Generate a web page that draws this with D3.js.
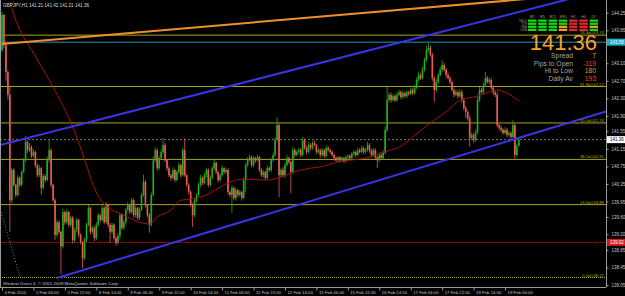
<!DOCTYPE html>
<html>
<head>
<meta charset="utf-8">
<script src="https://d3js.org/d3.v7.min.js"></script>
<style>
body { margin: 0; background: #000; }
svg { display: block; }
</style>
</head>
<body>
<svg></svg>
<script>
var w = 625
var h = 296
var plotRight = 606
var plotBottom = 287

// ---- data ----
var symbol = "GBPJPY,H1"
var firstOpen = 143.40
var closes = [
 144.20,143.51,142.90,142.38,139.98,140.67,140.33,140.10,140.49,140.33,
 140.62,140.89,141.31,141.12,141.19,140.99,141.08,140.78,140.55,140.71,
 140.26,140.53,140.44,140.89,141.12,140.33,139.98,139.19,139.48,139.26,
 138.93,139.71,139.48,139.71,139.42,139.58,139.07,139.30,139.53,139.19,
 139.03,138.66,139.07,139.42,139.80,139.26,139.35,139.12,139.42,139.64,
 139.53,139.80,139.48,139.87,139.42,139.26,139.42,139.12,139.01,139.17,
 139.64,139.35,139.48,139.76,139.87,139.71,139.98,139.64,139.80,139.58,
 139.76,140.10,140.40,139.87,139.64,139.42,140.10,140.89,141.12,140.71,
 140.94,141.08,141.24,140.89,140.71,140.55,140.49,140.67,140.44,140.62,
 140.78,140.55,141.12,140.55,140.33,140.17,139.87,139.64,139.98,140.10,
 140.33,140.49,140.37,140.55,140.67,140.33,140.49,140.71,140.83,140.62,
 140.44,140.55,140.71,140.62,140.67,140.17,140.10,140.26,140.03,140.21,
 140.10,140.17,140.03,140.44,140.78,140.89,140.96,140.78,140.94,140.89,
 140.96,140.67,140.55,140.62,140.49,140.71,140.67,140.89,141.01,141.35,
 141.69,140.55,140.67,140.55,140.78,140.94,140.85,140.62,141.12,141.01,
 141.08,141.12,141.01,141.35,141.17,141.08,141.24,141.17,141.28,141.24,
 141.08,141.12,141.01,141.12,140.99,141.17,141.12,141.08,141.01,140.94,
 140.89,140.96,140.89,140.94,140.87,140.96,140.99,140.94,141.03,141.08,
 141.01,141.12,141.08,141.17,141.08,141.12,141.24,141.12,141.01,141.12,
 140.96,140.89,141.01,140.94,141.06,141.58,142.26,142.38,142.26,142.35,
 142.26,142.38,142.44,142.33,142.42,142.35,142.44,142.40,142.49,142.42,
 142.54,142.72,142.83,142.76,142.95,143.17,143.40,143.45,143.29,142.76,
 142.49,142.67,142.83,142.95,143.06,142.95,142.83,142.76,142.67,142.49,
 142.38,142.44,142.35,142.44,142.26,142.08,141.99,141.85,141.40,141.47,
 141.35,141.53,142.26,142.49,142.44,142.60,142.76,142.67,142.72,142.54,
 142.44,142.38,141.69,141.63,141.58,141.51,141.58,141.47,141.51,141.42,
 141.69,141.01,141.21,141.36
]
// wick lengths beyond the body, in pips
var wickUp = [
 7,2,2,4,18,5,4,3,6,3, 4,5,14,3,9,4,6,3,4,7, 3,5,4,8,23,4,3,5,6,4,
 3,8,4,6,3,5,4,6,5,3, 4,2,6,5,7,3,5,4,6,5, 3,6,4,7,3,4,5,3,4,6,
 5,4,6,5,7,3,6,4,5,3, 6,5,16,4,3,5,6,8,7,4, 5,6,16,4,3,5,4,6,3,5,
 7,4,6,27,3,4,3,5,6,4, 5,7,3,6,5,4,6,5,8,3, 4,5,6,3,5,4,3,6,4,5,
 3,4,3,6,5,7,6,4,5,3, 6,3,4,5,3,6,4,5,6,7, 18,5,4,6,5,7,4,3,8,5,
 4,6,5,7,4,5,6,4,5,6, 3,5,4,5,3,6,4,3,4,3, 4,3,2,4,3,4,3,4,5,4,
 3,5,4,6,4,5,7,4,3,5, 4,3,5,4,6,8,30,6,5,4, 5,6,5,4,6,4,5,4,6,5,
 7,6,8,5,7,6,9,11,6,5, 4,6,5,7,11,5,4,6,5,4, 5,6,4,7,5,4,5,4,6,5,
 4,6,9,7,5,6,14,5,6,4, 5,3,6,4,5,4,6,5,4,5, 11,4,5,6
]
var wickDn = [
 5,7,20,11,73,7,4,6,3,5, 4,3,5,6,4,5,3,6,5,4, 16,4,6,3,5,6,4,11,5,6,
 64,5,6,4,5,6,8,4,5,6, 5,23,4,5,3,6,4,7,5,4, 6,3,5,4,6,25,5,6,7,4,
 8,5,4,6,3,5,4,6,5,4, 5,3,4,6,5,18,4,3,5,6, 4,3,5,4,6,5,7,4,5,3,
 4,6,3,4,5,6,4,27,5,4, 3,5,4,3,6,5,4,3,4,5, 6,4,3,5,4,6,5,41,4,6,
 5,4,6,3,27,4,3,5,4,6, 3,5,4,6,5,3,4,5,3,4, 3,50,5,4,6,3,5,48,4,5,
 3,4,5,3,4,6,3,5,4,3, 5,4,6,3,5,4,3,5,4,6, 3,4,5,3,4,3,5,4,3,4,
 5,3,4,3,5,4,3,6,4,3, 5,18,4,5,3,4,5,4,6,3, 5,4,3,5,4,3,5,4,3,5,
 4,3,5,4,3,4,3,5,4,6, 27,5,4,3,5,4,6,3,5,4, 6,3,5,4,6,5,14,6,20,5,
 6,4,5,4,3,5,4,3,5,4, 6,5,4,6,5,4,3,5,4,6, 3,11,4,0
]
// moving average, read at knots (bar index, price)
var maBars = [4,7,16,26,36,43,46,51,62,75,79,86,91,97,106,111,116,123,135,142,147,157,162,171,177,187,192,198,203,209,218,227,233,240,248,252,257,263]
var maPrices = [144.49,144.08,143.33,142.56,141.65,140.78,140.37,139.94,139.64,139.44,139.60,139.76,139.98,140.01,140.14,140.28,140.39,140.46,140.44,140.51,140.60,140.71,140.74,140.85,140.89,140.96,141.05,141.12,141.21,141.42,141.74,142.03,142.26,142.33,142.44,142.49,142.42,142.24]

var timeTickBars = [0,16,32,48,64,80,96,112,128,144,160,176,192,208,224,240,256]
var timeTickLabels = ["4 Feb 2010","5 Feb 06:00","5 Feb 22:00","8 Feb 14:00","9 Feb 06:00","9 Feb 22:00","10 Feb 14:00","11 Feb 06:00","11 Feb 22:00","12 Feb 14:00","15 Feb 06:00","15 Feb 22:00","16 Feb 14:00","17 Feb 06:00","17 Feb 22:00","18 Feb 14:00","19 Feb 06:00"]
var priceTicks = [144.25,143.85,143.10,142.70,142.30,141.90,141.55,141.15,140.75,140.35,139.95,139.60,139.20,138.85,138.45,138.05]

var fibNames = ["76.4","61.8","50.0","38.2","23.6","0.0"]
var fibPrices = [143.74,142.57,141.74,140.91,139.88,138.22]

var upperChannel = [[14,141.41],[217,143.74]]
var lowerChannel = [[28,138.21],[263,141.40]]
var orangeLine = [[0,143.54],[253,144.51]]
var cyanTrend = [[-0.5,139.71],[9.2,138.23]]
var cyanLevel = 143.58
var redLevel = 139.02

var signalCols = ["M1","M5","M15","M30","H1","H4","D1"]
var signalRows = ["MACD","STR","EMA","OsMA"]
var signals = [
 ["up","up","up","up","dn","dn","up"],
 ["up","up","up","up","dn","dn","up"],
 ["up","up","up","flat","dn","dn","flat"],
 ["up","up","up","flat","dn","dn","up"]
]
var infoLabels = ["Spread","Pips to Open","Hi to Low","Daily Av"]
var infoValues = ["7","-119","180","193"]

// ---- drawing ----
var font = "'Liberation Sans', Arial, sans-serif"
var bullColor = "#1fb01f"
var bearColor = "#ee5a55"
var axisText = "#c4c4c4"
var fibColor = "#a6a61e"

var svg = d3.select("svg")
	.attr("width", w)
	.attr("height", h)
	.style("background-color", "black")

var x = d3.scaleLinear().domain([0, 263]).range([2, 518.8])
var y = d3.scaleLinear().domain([138.004, 144.54]).range([plotBottom, 0])

svg.append("defs").append("clipPath")
	.attr("id", "plotClip")
	.append("rect")
	.attr("x", 0).attr("y", 0)
	.attr("width", plotRight).attr("height", plotBottom)

var plot = svg.append("g").attr("clip-path", "url(#plotClip)")

// candles
var candles = closes.map(function(c, i){
	var o = i == 0 ? firstOpen : closes[i-1]
	return {i: i, o: o, c: c,
		hi: Math.max(o, c) + wickUp[i] / 100,
		lo: Math.min(o, c) - wickDn[i] / 100}
})

// horizontal levels (behind the bars)
var fibs = fibPrices.map(function(p, k){ return {p: p, name: fibNames[k]} })

plot.selectAll(".fib")
	.data(fibs)
	.join("line")
	.attr("class", "fib")
	.attr("x1", 0).attr("x2", plotRight)
	.attr("y1", function(d){ return y(d.p) })
	.attr("y2", function(d){ return y(d.p) })
	.attr("stroke", fibColor)
	.attr("stroke-width", 1)
	.attr("stroke-dasharray", function(d){ return d.name == "0.0" ? "1,1" : null })

plot.append("line")
	.attr("x1", 0).attr("x2", plotRight)
	.attr("y1", y(cyanLevel)).attr("y2", y(cyanLevel))
	.attr("stroke", "#2396b4").attr("stroke-width", 1)

plot.append("line")
	.attr("x1", 0).attr("x2", plotRight)
	.attr("y1", y(closes[closes.length-1])).attr("y2", y(closes[closes.length-1]))
	.attr("stroke", "#7a7a7a").attr("stroke-width", 1)
	.attr("stroke-dasharray", "2,2")

plot.append("line")
	.attr("x1", 0).attr("x2", plotRight)
	.attr("y1", y(redLevel)).attr("y2", y(redLevel))
	.attr("stroke", "#b01818").attr("stroke-width", 1)
	.attr("stroke-dasharray", "1,1")

plot.selectAll(".wick")
	.data(candles)
	.join("line")
	.attr("class", "wick")
	.attr("x1", function(d){ return x(d.i) })
	.attr("x2", function(d){ return x(d.i) })
	.attr("y1", function(d){ return y(d.hi) })
	.attr("y2", function(d){ return y(d.lo) })
	.attr("stroke", function(d){ return d.c >= d.o ? bullColor : bearColor })
	.attr("stroke-width", 0.8)

plot.selectAll(".body")
	.data(candles)
	.join("rect")
	.attr("class", "body")
	.attr("x", function(d){ return x(d.i) - 0.8 })
	.attr("width", 1.6)
	.attr("y", function(d){ return y(Math.max(d.o, d.c)) })
	.attr("height", function(d){ return Math.max(1, Math.abs(y(d.o) - y(d.c))) })
	.attr("fill", function(d){ return d.c >= d.o ? bullColor : bearColor })

// moving average
var maPts = maBars.map(function(b, k){ return [b, maPrices[k]] })
plot.append("path")
	.datum(maPts)
	.attr("d", d3.line()
		.x(function(d){ return x(d[0]) })
		.y(function(d){ return y(d[1]) })
		.curve(d3.curveMonotoneX))
	.attr("fill", "none")
	.attr("stroke", "#a81010")
	.attr("stroke-width", 1)

// trend lines, extended to the right edge
function extend(pts, fromLeft){
	var b0 = pts[0][0], p0 = pts[0][1]
	var slope = (pts[1][1] - p0) / (pts[1][0] - b0)
	var bStart = fromLeft ? x.invert(0) : b0
	var bEnd = x.invert(plotRight)
	return [[bStart, p0 + slope * (bStart - b0)], [bEnd, p0 + slope * (bEnd - b0)]]
}
var seg = d3.line().x(function(d){ return x(d[0]) }).y(function(d){ return y(d[1]) })

plot.append("path").attr("d", seg(extend(upperChannel, true)))
	.attr("stroke", "#3b33e6").attr("stroke-width", 2).attr("fill", "none")
plot.append("path").attr("d", seg(extend(lowerChannel, false)))
	.attr("stroke", "#3b33e6").attr("stroke-width", 2).attr("fill", "none")
plot.append("path").attr("d", seg(extend(orangeLine, false)))
	.attr("stroke", "#ef8e2c").attr("stroke-width", 2).attr("fill", "none")
plot.append("path").attr("d", seg(cyanTrend))
	.attr("stroke", "#2a9fb5").attr("stroke-width", 1).attr("fill", "none")
	.attr("stroke-dasharray", "1,2")

// fib labels
plot.selectAll(".fibLabel")
	.data(fibs)
	.join("text")
	.attr("class", "fibLabel")
	.attr("x", plotRight - 2)
	.attr("y", function(d){ return y(d.p) - 1 })
	.attr("text-anchor", "end")
	.style("font", "4.3px " + font)
	.attr("fill", fibColor)
	.text(function(d){ return d.name + "=" + d.p.toFixed(2) })

// ---- axes ----
svg.append("line")
	.attr("x1", plotRight + 0.5).attr("x2", plotRight + 0.5)
	.attr("y1", 0).attr("y2", plotBottom)
	.attr("stroke", "#9a9a9a")
svg.append("line")
	.attr("x1", 0).attr("x2", plotRight)
	.attr("y1", plotBottom + 0.5).attr("y2", plotBottom + 0.5)
	.attr("stroke", "#9a9a9a")
svg.append("line")
	.attr("x1", 0.5).attr("x2", 0.5)
	.attr("y1", 0).attr("y2", plotBottom)
	.attr("stroke", "#9a9a9a")

var yAxis = svg.append("g")
	.attr("transform", "translate(" + (plotRight + 0.5) + ",0)")
	.call(d3.axisRight(y).tickValues(priceTicks).tickSize(2).tickPadding(3)
		.tickFormat(function(d){ return d.toFixed(2) }))
yAxis.select(".domain").remove()
yAxis.selectAll("line").attr("stroke", "#9a9a9a")
yAxis.selectAll("text").attr("fill", axisText).style("font", "4.5px " + font)

var xAxis = svg.append("g")
	.attr("transform", "translate(0," + (plotBottom + 0.5) + ")")
	.call(d3.axisBottom(x).tickValues(timeTickBars).tickSize(3)
		.tickFormat(function(d, k){ return timeTickLabels[k] }))
xAxis.select(".domain").remove()
xAxis.selectAll("line").attr("stroke", "#9a9a9a")
xAxis.selectAll("text")
	.attr("fill", axisText)
	.attr("text-anchor", "start")
	.attr("x", 2).attr("y", 3).attr("dy", "0.71em")
	.style("font", "4.3px " + font)

// price boxes on the axis
var boxes = [
	{p: cyanLevel, fill: "#2aa9c6", color: "#e8ffff"},
	{p: closes[closes.length-1], fill: "#ffffff", color: "#000000"},
	{p: redLevel, fill: "#d41e1e", color: "#ffffff"}
]
var boxG = svg.selectAll(".pbox").data(boxes).join("g").attr("class", "pbox")
boxG.append("rect")
	.attr("x", plotRight + 1).attr("width", w - plotRight - 1)
	.attr("y", function(d){ return y(d.p) - 3.5 }).attr("height", 7)
	.attr("fill", function(d){ return d.fill })
boxG.append("text")
	.attr("x", plotRight + 4)
	.attr("y", function(d){ return y(d.p) + 1.6 })
	.attr("fill", function(d){ return d.color })
	.style("font", "4.5px " + font)
	.text(function(d){ return d.p.toFixed(2) })

// title + footer
var last = candles[candles.length-1]
svg.append("text")
	.attr("x", 3).attr("y", 7)
	.attr("fill", "#d8d8d8")
	.style("font", "4.6px " + font)
	.text(symbol + "  " + [last.o, last.hi, last.lo, last.c].map(function(v){ return v.toFixed(2) }).join(" "))

svg.append("text")
	.attr("x", 3).attr("y", 285)
	.attr("fill", "#c8c8c8")
	.style("font", "4.4px " + font)
	.text("Windsor Direct 4, \u00a9 2001-2009 MetaQuotes Software Corp.")

// ---- signal panel ----
var colX = d3.scaleBand().domain(signalCols).range([528, 598]).paddingInner(0.18)
var rowY = d3.scaleBand().domain(signalRows).range([19.5, 31]).paddingInner(0.25)
var sigColor = {up: "#12d812", dn: "#e02828", flat: "#f0a020"}

svg.selectAll(".colHead")
	.data(signalCols)
	.join("text")
	.attr("class", "colHead")
	.attr("x", function(d){ return colX(d) + colX.bandwidth() / 2 })
	.attr("y", 17.5)
	.attr("text-anchor", "middle")
	.attr("fill", "#9a9a9a")
	.style("font", "3.6px " + font)
	.text(function(d){ return d })

svg.selectAll(".rowHead")
	.data(signalRows)
	.join("text")
	.attr("class", "rowHead")
	.attr("x", 527)
	.attr("y", function(d){ return rowY(d) + rowY.bandwidth() })
	.attr("text-anchor", "end")
	.attr("fill", "#8a8a8a")
	.style("font", "2.6px " + font)
	.text(function(d){ return d })

signals.forEach(function(row, r){
	svg.selectAll(".sig" + r)
		.data(row)
		.join("rect")
		.attr("class", "sig" + r)
		.attr("x", function(d, k){ return colX(signalCols[k]) })
		.attr("width", colX.bandwidth())
		.attr("y", rowY(signalRows[r]))
		.attr("height", rowY.bandwidth())
		.attr("fill", function(d){ return sigColor[d] })
})

svg.append("text")
	.attr("x", 597).attr("y", 49.5)
	.attr("text-anchor", "end")
	.attr("fill", "#f2a22c")
	.style("font", "22px " + font)
	.text(last.c.toFixed(2))

var valueColors = ["#f2a22c", "#ff3a2e", "#f08a24", "#ff3a2e"]
var infoY = [58, 65.5, 73, 80.5]
svg.selectAll(".infoLabel")
	.data(infoLabels)
	.join("text")
	.attr("class", "infoLabel")
	.attr("x", 573)
	.attr("y", function(d, k){ return infoY[k] })
	.attr("text-anchor", "end")
	.attr("fill", "#a4a4a4")
	.style("font", "6.8px " + font)
	.text(function(d){ return d })

svg.selectAll(".infoValue")
	.data(infoValues)
	.join("text")
	.attr("class", "infoValue")
	.attr("x", 596)
	.attr("y", function(d, k){ return infoY[k] })
	.attr("text-anchor", "end")
	.attr("fill", function(d, k){ return valueColors[k] })
	.style("font", "6.8px " + font)
	.text(function(d){ return d })
</script>
</body>
</html>
